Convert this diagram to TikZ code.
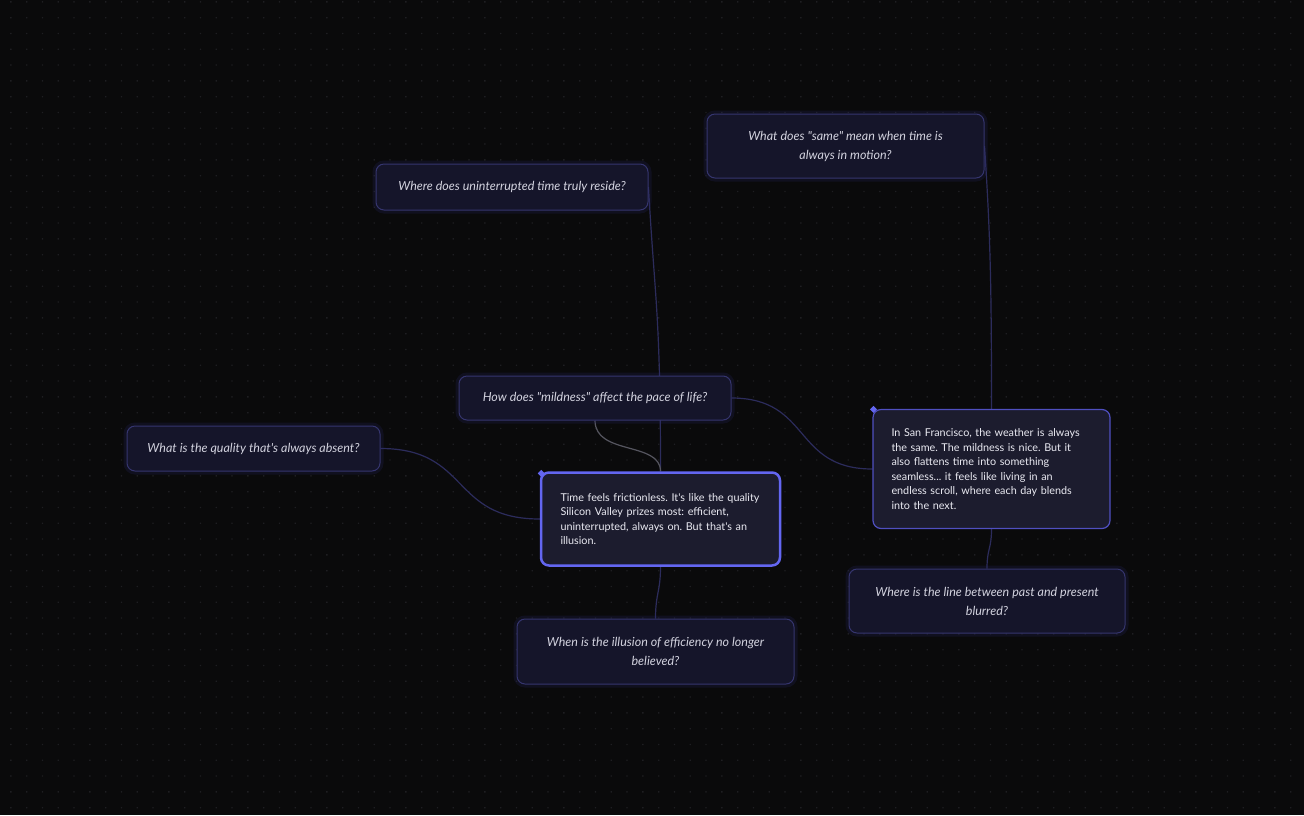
\documentclass[tikz,border=0pt]{standalone}
\usepackage{fontspec}
\setmainfont{Lato}[Ligatures=TeXOff]
\usepackage{tikz}
\usetikzlibrary{calc}
\frenchspacing
\definecolor{bgcol}{HTML}{0A0A0B}
\definecolor{gridcol}{HTML}{1E1E22}
\definecolor{qfill}{HTML}{15152A}
\definecolor{qline}{HTML}{35356E}
\definecolor{qglow}{HTML}{2A2A70}
\definecolor{qtext}{HTML}{D2D2DE}
\definecolor{sfill}{HTML}{1C1C2E}
\definecolor{sline}{HTML}{4F4FC0}
\definecolor{mline}{HTML}{6366F1}
\definecolor{stext}{HTML}{EAEAF2}
\definecolor{edgecol}{HTML}{2C2C5C}
\definecolor{edgegray}{HTML}{55555F}
\pgfdeclarelayer{grid}
\pgfdeclarelayer{edges}
\pgfsetlayers{grid,edges,main}

\begin{document}
\begin{tikzpicture}[x=1pt,y=-1pt,
  question/.style={rectangle,rounded corners=8pt,fill=qfill,draw=qline,line width=1pt,
    align=center,text=qtext,font=\fontsize{12.5}{19}\selectfont\itshape,
    preaction={draw=qglow,line width=7pt,draw opacity=0.2,fill opacity=0}},
  statement/.style={rectangle,rounded corners=8pt,fill=sfill,draw=sline,line width=1.2pt,
    align=left,text width=200pt,inner xsep=0pt,text=stext,font=\fontsize{10.8}{14.5}\selectfont},
  link/.style={draw=edgecol,line width=1.2pt}]
\useasboundingbox (0,0) rectangle (1304,815);
\begin{pgfonlayer}{grid}
\fill[bgcol] (0,0) rectangle (1304,815);
\fill[gridcol] \foreach \i in {0,...,82} {\foreach \j in {0,...,51} {(10.2+15.8*\i,1.2+15.8*\j) rectangle ++(1.3,1.3)}};
\end{pgfonlayer}

\node[question,minimum width=272pt,minimum height=46pt] (reside) at (512,187) {Where does uninterrupted time truly reside?};
\node[question,minimum width=277pt,minimum height=64pt] (same) at (845.5,146) {What does "same" mean when time is\\always in motion?};
\node[question,minimum width=272pt,minimum height=44pt] (mildness) at (595,398) {How does "mildness" affect the pace of life?};
\node[question,minimum width=253pt,minimum height=45pt] (absent) at (253.5,448.5) {What is the quality that's always absent?};
\node[statement,draw=mline,line width=2.5pt,minimum width=239pt,minimum height=93pt] (main) at (660.5,519)
  {Time feels frictionless. It's like the quality\\Silicon Valley prizes most: efficient,\\uninterrupted, always on. But that's an\\illusion.};
\node[statement,minimum width=237pt,minimum height=119pt] (sf) at (991.5,469)
  {In San Francisco, the weather is always\\the same. The mildness is nice. But it\\also flattens time into something\\seamless... it feels like living in an\\endless scroll, where each day blends\\into the next.};
\node[question,minimum width=276pt,minimum height=64pt] (past) at (987,601) {Where is the line between past and present\\blurred?};
\node[question,minimum width=277pt,minimum height=65pt] (illusion) at (655.5,651.5) {When is the illusion of efficiency no longer\\believed?};

\fill[mline] ($(main.north west)+(1.5,2)$) +(-3.5,0) -- +(0,-3.5) -- +(3.5,0) -- +(0,3.5) -- cycle;
\fill[mline] ($(sf.north west)+(1,0.5)$) +(-3.5,0) -- +(0,-3.5) -- +(3.5,0) -- +(0,3.5) -- cycle;

\begin{pgfonlayer}{edges}
\draw[link] (reside.east) .. controls +(6,110) and +(0,-160) .. (main.north);
\draw[link] (same.east) .. controls +(6,90) and +(0,-120) .. (sf.north);
\draw[link] (absent.east) .. controls +(90,0) and +(-90,0) .. (main.west);
\draw[link] (mildness.east) .. controls +(80,0) and +(-80,0) .. (sf.west);
\draw[link,draw=edgegray] (mildness.south) .. controls +(0,35) and +(0,-30) .. (main.north);
\draw[link] (main.south) .. controls +(0,25) and +(0,-25) .. (illusion.north);
\draw[link] (sf.south) .. controls +(0,20) and +(0,-20) .. (past.north);
\end{pgfonlayer}
\end{tikzpicture}
\end{document}
